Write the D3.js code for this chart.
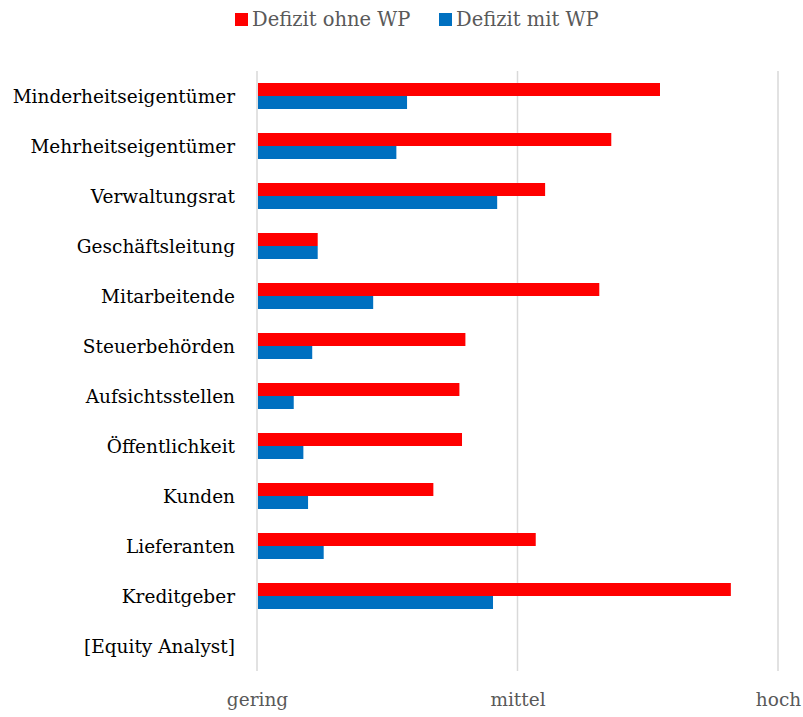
<!DOCTYPE html>
<html>
<head>
<meta charset="utf-8">
<script src="https://cdn.jsdelivr.net/npm/d3@7"></script>
<style>
  html, body { margin: 0; padding: 0; background: #fff; }
  svg { display: block; }
</style>
</head>
<body>
<div id="chart"></div>
<script>
// Stakeholder groups, top to bottom
const categories = [
  "Minderheitseigentümer", "Mehrheitseigentümer", "Verwaltungsrat",
  "Geschäftsleitung", "Mitarbeitende", "Steuerbehörden",
  "Aufsichtsstellen", "Öffentlichkeit", "Kunden", "Lieferanten",
  "Kreditgeber", "[Equity Analyst]"
];
// Deficit level on a 0 (gering) .. 2 (hoch) scale; null = no bar
const defizitOhneWP = [1.547, 1.360, 1.106, 0.233, 1.314, 0.800, 0.777, 0.787, 0.677, 1.070, 1.819, null];
const defizitMitWP  = [0.576, 0.535, 0.922, 0.233, 0.446, 0.212, 0.141, 0.178, 0.196, 0.256, 0.906, null];
const seriesNames = ["Defizit ohne WP", "Defizit mit WP"];
const seriesColors = ["#ff0000", "#0070c0"];
const tickValues = [0, 1, 2];
const tickLabels = ["gering", "mittel", "hoch"];

const W = 803, H = 717;
const margin = { top: 71, right: 25, bottom: 46, left: 257 };
const fontFamily = "'DejaVu Serif', 'Liberation Serif', serif";
const fontSize = 18.5;
const legendFontSize = 19.5;

const svg = d3.select("#chart").append("svg")
  .attr("width", W).attr("height", H);

const x = d3.scaleLinear().domain([0, 2]).range([margin.left, W - margin.right]);
const y = d3.scaleBand().domain(categories)
  .range([margin.top, H - margin.bottom])
  .paddingInner(0.48).paddingOuter(0.24);
const ySub = d3.scaleBand().domain(seriesNames).range([0, y.bandwidth()]);

// vertical gridlines
svg.append("g").selectAll("line").data(tickValues).join("line")
  .attr("x1", d => x(d)).attr("x2", d => x(d))
  .attr("y1", margin.top).attr("y2", H - margin.bottom)
  .attr("stroke", "#d9d9d9").attr("stroke-width", 1.5);

// bars
const series = [defizitOhneWP, defizitMitWP];
series.forEach((vals, si) => {
  const rows = categories.map((c, i) => ({ c, v: vals[i] })).filter(d => d.v != null);
  svg.append("g").selectAll("rect").data(rows).join("rect")
    .attr("x", x(0) + 1)
    .attr("y", d => y(d.c) + ySub(seriesNames[si]))
    .attr("width", d => x(d.v) - x(0) - 1)
    .attr("height", ySub.bandwidth())
    .attr("fill", seriesColors[si]);
});

// category labels
const yAxis = d3.axisLeft(y).tickSize(0).tickPadding(22);
const gy = svg.append("g").attr("transform", `translate(${margin.left},0)`).call(yAxis);
gy.select(".domain").remove();
gy.selectAll("text")
  .attr("font-family", fontFamily).attr("font-size", fontSize)
  .attr("fill", "#000").attr("dy", "0.38em");

// value axis labels
const xAxis = d3.axisBottom(x).tickValues(tickValues)
  .tickFormat((d, i) => tickLabels[i]).tickSize(0).tickPadding(22);
const gx = svg.append("g").attr("transform", `translate(0,${H - margin.bottom})`).call(xAxis);
gx.select(".domain").remove();
gx.selectAll("text")
  .attr("font-family", fontFamily).attr("font-size", fontSize)
  .attr("fill", "#595959");

// legend
const legend = svg.append("g");
const legendX = [235, 439];
seriesNames.forEach((name, i) => {
  const g = legend.append("g").attr("transform", `translate(${legendX[i]},13)`);
  g.append("rect").attr("width", 13).attr("height", 13).attr("fill", seriesColors[i]);
  g.append("text").attr("x", 17).attr("y", 12.5)
    .attr("font-family", fontFamily).attr("font-size", legendFontSize)
    .attr("fill", "#595959").text(name);
});
</script>
</body>
</html>
